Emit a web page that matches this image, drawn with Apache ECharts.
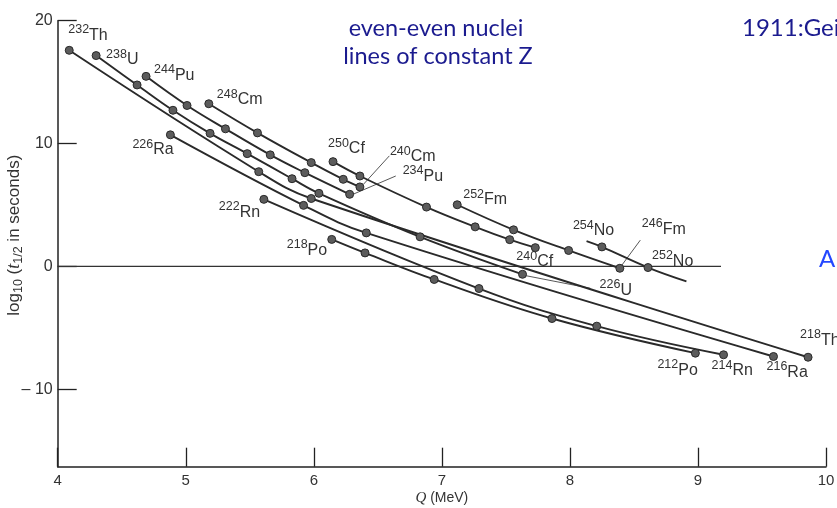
<!DOCTYPE html>
<html><head><meta charset="utf-8">
<script src="https://cdn.jsdelivr.net/npm/echarts@6/dist/echarts.min.js"></script>
<style>html,body{margin:0;padding:0;background:#fff}#c{width:837px;height:508px}</style>
</head><body><div id="c"></div>
<script>
// ---- data (Q in MeV, log10 t1/2 in s) ----
const Q_TICKS = [4, 5, 6, 7, 8, 9, 10];
const LOG_TICKS = [-10, 0, 10, 20];

const thorium     = [[4.09,17.59],[5.57,7.71],[5.98,5.53],[9.86,-7.39]];
const thoriumLbl  = ['232Th','','','218Th'];
const uranium     = [[4.30,17.16],[4.62,14.77],[4.90,12.71],[5.19,10.83],[5.48,9.18],[5.83,7.14],[6.04,5.95],[6.83,2.41],[7.63,-0.64]];
const uraniumLbl  = ['238U','','','','','','','','226U'];
const plutonium   = [[4.69,15.47],[5.01,13.10],[5.31,11.20],[5.66,9.08],[5.93,7.63],[6.28,5.87]];
const plutoniumLbl= ['244Pu','','','','','234Pu'];
const curium      = [[5.18,13.24],[5.56,10.87],[5.98,8.45],[6.23,7.09],[6.36,6.47]];
const curiumLbl   = ['248Cm','','','','240Cm'];
const californium = [[6.15,8.53],[6.36,7.36],[6.88,4.83],[7.26,3.22],[7.53,2.18],[7.73,1.53]];
const californiumLbl = ['250Cf','','','','','240Cf'];
const fermium     = [[7.12,5.02],[7.56,2.98],[7.99,1.30],[8.39,-0.15]];
const fermiumLbl  = ['252Fm','','','246Fm'];
const nobelium    = [[8.25,1.59],[8.61,-0.09]];
const nobeliumLbl = ['254No','252No'];
const nobeliumExtent = [[8.13,2.06],[8.91,-1.21]];
const radium      = [[4.88,10.71],[5.92,4.97],[6.41,2.73],[9.59,-7.33]];
const radiumLbl   = ['226Ra','','','216Ra'];
const radon       = [[5.61,5.46],[7.29,-1.80],[8.21,-4.86],[9.20,-7.19]];
const radonLbl    = ['222Rn','','','214Rn'];
const polonium    = [[6.14,2.20],[6.40,1.10],[6.94,-1.06],[7.86,-4.24],[8.98,-7.06]];
const poloniumLbl = ['218Po','','','','212Po'];

const zeroLine = [[4, 0], [9.18, 0]];
const callouts = [
  [[6.59, 9.00], [6.39, 6.71]],   // 240Cm
  [[6.64, 7.36], [6.31, 5.89]],   // 234Pu
  [[7.64, -0.72], [8.16, -1.78]], // 226U
  [[8.55, 2.14], [8.40, 0.02]]    // 246Fm
];

// ---- layout / style (not data) ----
const LABEL_OFFSETS = {
  '232Th':[-1,-15], '238U':[10,4], '244Pu':[8,-1], '248Cm':[8,-4], '226Ra':[-38,15],
  '250Cf':[-5,-13], '240Cm':[30,-30], '234Pu':[53,-18], '252Fm':[6,-5], '240Cf':[-19,14],
  '254No':[-29,-16], '246Fm':[22,-39], '252No':[4,-6], '226U':[77,16], '218Th':[-8,-17],
  '212Po':[-38,17], '214Rn':[-12,16], '216Ra':[-7,16], '222Rn':[-45,13], '218Po':[-45,11]
};
const RICH = {
  sup: {fontSize: 12.5, lineHeight: 13, padding: [0,0,11,0], color: '#333', fontFamily: 'Liberation Sans'},
  el:  {fontSize: 16, lineHeight: 18, color: '#333', fontFamily: 'Liberation Sans'}
};
function richLabel(t) { const m = t.match(/^(\d+)(\D+)$/); return '{sup|' + m[1] + '}{el|' + m[2] + '}'; }

const LINE_COLOR = '#2a2a2a';
function makeItem(p, t, noSymbol) {
  const item = {value: p};
  if (noSymbol) item.symbol = 'none';
  if (t) {
    item.label = {show: true, position: 'inside', align: 'left', verticalAlign: 'middle',
      offset: LABEL_OFFSETS[t], formatter: richLabel(t), rich: RICH};
  }
  return item;
}
function curve(data, labels, extent) {
  let items = data.map((p, i) => makeItem(p, labels[i], false));
  if (extent) {
    items = [makeItem(extent[0], '', true)].concat(items, [makeItem(extent[1], '', true)]);
  }
  return {
    type: 'line', data: items, smooth: 0.4, showAllSymbol: true,
    symbol: 'circle', symbolSize: 8, z: 3,
    lineStyle: {color: LINE_COLOR, width: 1.9},
    itemStyle: {color: '#5c5c5c', borderColor: LINE_COLOR, borderWidth: 1},
    label: {show: false}, emphasis: {disabled: true}, silent: true
  };
}

const series = [
  {type: 'line', data: zeroLine, symbol: 'none', z: 1, silent: true,
   lineStyle: {color: '#333', width: 1.2}},
  ...callouts.map(c => ({type: 'line', data: c, symbol: 'none', z: 2, silent: true,
   lineStyle: {color: '#444', width: 0.9}})),
  curve(thorium, thoriumLbl),
  curve(uranium, uraniumLbl),
  curve(plutonium, plutoniumLbl),
  curve(curium, curiumLbl),
  curve(californium, californiumLbl),
  curve(fermium, fermiumLbl),
  curve(nobelium, nobeliumLbl, nobeliumExtent),
  curve(radium, radiumLbl),
  curve(radon, radonLbl),
  curve(polonium, poloniumLbl)
];

const nameFont = 'Liberation Sans';
const slideFont = '23.5px Lato';
const chart = echarts.init(document.getElementById('c'), null, {renderer: 'canvas'});
chart.setOption({
  animation: false,
  backgroundColor: '#ffffff',
  grid: {left: 57.7, right: 11, top: 20.7, bottom: 41.3, containLabel: false, outerBoundsMode: 'none'},
  xAxis: {
    type: 'value', min: Q_TICKS[0], max: Q_TICKS[Q_TICKS.length - 1], interval: 1,
    axisLine: {show: true, onZero: false, lineStyle: {color: '#222', width: 1.5}},
    axisTick: {show: true, inside: true, length: 19, lineStyle: {color: '#222', width: 1.3}},
    axisLabel: {color: '#333', fontSize: 15, margin: 7,
      fontFamily: "'Liberation Sans Narrow', 'Liberation Sans', sans-serif"},
    splitLine: {show: false},
    name: '{q|Q}{m| (MeV)}', nameLocation: 'middle', nameGap: 24, nameMoveOverlap: false,
    nameTextStyle: {color: '#333',
      rich: {q: {fontStyle: 'italic', fontFamily: 'Liberation Serif', fontSize: 15, color: '#333'},
             m: {fontFamily: "'Liberation Sans Narrow', 'Liberation Sans', sans-serif", fontSize: 14, color: '#333'}}}
  },
  yAxis: {
    type: 'value', min: -16.3, max: 20,
    axisLine: {show: true, onZero: false, lineStyle: {color: '#222', width: 1.5}},
    axisTick: {show: true, inside: true, length: 19, customValues: LOG_TICKS,
      lineStyle: {color: '#222', width: 1.3}},
    axisLabel: {show: true, customValues: LOG_TICKS, color: '#333', fontSize: 16, margin: 5,
      fontFamily: 'Liberation Sans',
      formatter: v => v < 0 ? '\u2013 ' + (-v) : String(v)},
    splitLine: {show: false},
    name: '{n|log}{s|10}{n| (}{i|t}{s|1/2}{n| in seconds)}', nameLocation: 'middle',
    nameGap: 33, nameMoveOverlap: false,
    nameTextStyle: {color: '#333', padding: [0, 0, 0, 17],
      rich: {
        n: {fontSize: 17, fontFamily: nameFont, color: '#333'},
        s: {fontSize: 12.5, fontFamily: nameFont, padding: [8,0,0,0], color: '#333'},
        i: {fontSize: 18, fontFamily: 'Liberation Serif', fontStyle: 'italic', color: '#333'}
      }}
  },
  graphic: [
    {type: 'text', x: 436, y: 28, style: {text: 'even-even nuclei', fill: '#1b1b8f',
      font: slideFont, textAlign: 'center', textVerticalAlign: 'middle'}},
    {type: 'text', x: 438, y: 56, style: {text: 'lines of constant Z', fill: '#1b1b8f',
      font: slideFont, textAlign: 'center', textVerticalAlign: 'middle'}},
    {type: 'text', x: 742, y: 28, style: {text: '1911:Geiger\u2013Nuttall', fill: '#1b1b8f',
      font: '24px Lato', textAlign: 'left', textVerticalAlign: 'middle'}},
    {type: 'text', x: 819, y: 259, style: {text: 'Alpha', fill: '#2447ff',
      font: '24px Lato', textAlign: 'left', textVerticalAlign: 'middle'}}
  ],
  series: series
});
</script>
</body></html>
